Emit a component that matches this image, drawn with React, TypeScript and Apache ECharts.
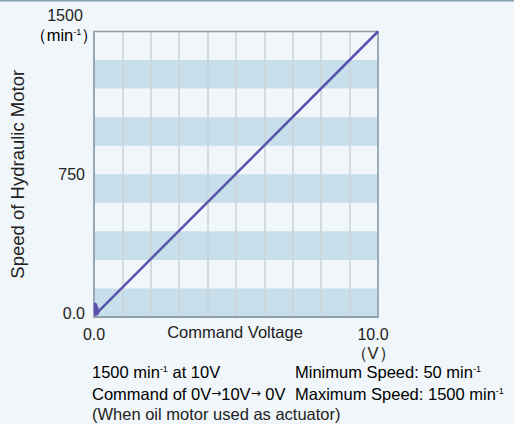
import React, { useEffect, useRef } from "react";
import * as echarts from "echarts";

const voltage = [0.03, 0.05, 0.07, 0.09, 0.11, 0.13, 0.16, 10.0];
const speed = [75, 5, 70, 10, 55, 15, 30, 1500];
const xTickLabels: Record<number, string> = { 0: "0.0", 10: "10.0" };
const yTickLabels: Record<number, string> = { 0: "0.0", 750: "750" };

const FONT = "'Liberation Sans', Arial, Helvetica, sans-serif";
const TXT = "#222222";
const FS = 16.5;

export default function App() {
  const ref = useRef<HTMLDivElement>(null);
  useEffect(() => {
    if (!ref.current) return;
    const chart = echarts.init(ref.current, undefined, { renderer: "svg" });
    const sup = { fontSize: 9, fontFamily: FONT, color: TXT, padding: [0, 0, 7, 0] };
    const base = { fontSize: FS, fontFamily: FONT, color: TXT };
    const arr = { fontSize: 12, fontFamily: "'DejaVu Sans', sans-serif", color: TXT, padding: [0, 0, 2, 0] };
    chart.setOption({
      animation: false,
      backgroundColor: "#f0f6f9",
      textStyle: { fontFamily: FONT },
      grid: {
        left: 91.5,
        top: 31.5,
        right: 136,
        bottom: 107,
        show: true,
        borderColor: "#8c9ca8",
        borderWidth: 1.5,
        backgroundColor: "transparent",
        z: 3,
      },
      xAxis: {
        type: "value",
        min: 0,
        max: 10,
        interval: 1,
        z: 2,
        axisLine: { show: true, lineStyle: { color: "#8c9ca8", width: 1.5 } },
        axisTick: { show: false },
        splitLine: { show: true, lineStyle: { color: "#cdd3d8", width: 1.5 } },
        axisLabel: {
          fontSize: 16,
          color: TXT,
          margin: 9,
          formatter: (v: number) =>
            v === 10 ? "{r|" + xTickLabels[10] + "}" : xTickLabels[v] ?? "",
          rich: { r: { fontSize: 16, color: TXT, fontFamily: FONT, padding: [0, 10, 0, 0] } },
        },
      },
      yAxis: {
        type: "value",
        min: 0,
        max: 1500,
        interval: 150,
        z: 1,
        name: "Speed of Hydraulic Motor",
        nameLocation: "middle",
        nameGap: 67,
        nameTextStyle: { fontSize: 18.5, color: TXT, fontFamily: FONT },
        axisLine: { show: true, lineStyle: { color: "#8c9ca8", width: 1.5 } },
        axisTick: { show: false },
        splitLine: { show: false },
        splitArea: { show: true, areaStyle: { color: ["#c7dfea", "rgba(0,0,0,0)"] } },
        axisLabel: {
          fontSize: 16,
          color: TXT,
          margin: 9,
          formatter: (v: number) =>
            v === 0 ? "{b|" + yTickLabels[0] + "}" : yTickLabels[v] ?? "",
          rich: { b: { fontSize: 16, color: TXT, fontFamily: FONT, padding: [0, 0, 8, 0] } },
        },
      },
      series: [
        {
          type: "line",
          data: voltage.map((v, i) => [v, speed[i]]),
          showSymbol: false,
          symbol: "none",
          z: 5,
          lineStyle: { color: "#5a52ac", width: 2.5 },
        },
      ],
      graphic: [
        { type: "rect", shape: { x: 0, y: 0, width: 514, height: 1.5 }, style: { fill: "#8aa2af" } },
        {
          type: "text",
          x: 235,
          y: 332,
          style: { text: "Command Voltage", fontSize: FS, fontFamily: FONT, fill: TXT, align: "center", verticalAlign: "middle" },
        },
        {
          type: "text",
          x: 65,
          y: 15,
          style: { text: "1500", fontSize: 16, fontFamily: FONT, fill: TXT, align: "center", verticalAlign: "middle" },
        },
        {
          type: "text",
          x: 64,
          y: 35,
          style: {
            text: "{b|（min}{s|-1}{b|）}",
            rich: { b: base, s: sup },
            align: "center",
            verticalAlign: "middle",
          },
        },
        {
          type: "text",
          x: 373,
          y: 353,
          style: { text: "（V）", fontSize: FS, fontFamily: FONT, fill: TXT, align: "center", verticalAlign: "middle" },
        },
        {
          type: "text",
          x: 92,
          y: 372,
          style: {
            text: "{b|1500 min}{s|-1}{b| at 10V}",
            rich: { b: base, s: sup },
            verticalAlign: "middle",
          },
        },
        {
          type: "text",
          x: 295,
          y: 372,
          style: {
            text: "{b|Minimum Speed: 50 min}{s|-1}",
            rich: { b: base, s: sup },
            verticalAlign: "middle",
          },
        },
        {
          type: "text",
          x: 92,
          y: 394,
          style: {
            text: "{b|Command of 0V}{a|→}{b|10V}{a|→}{b| 0V}",
            rich: { b: base, a: arr },
            verticalAlign: "middle",
          },
        },
        {
          type: "text",
          x: 295,
          y: 394,
          style: {
            text: "{b|Maximum Speed: 1500 min}{s|-1}",
            rich: { b: base, s: sup },
            verticalAlign: "middle",
          },
        },
        {
          type: "text",
          x: 92,
          y: 414,
          style: {
            text: "(When oil motor used as actuator)",
            fontSize: FS,
            fontFamily: FONT,
            fill: TXT,
            verticalAlign: "middle",
          },
        },
      ],
    });
    return () => chart.dispose();
  }, []);
  return (
    <div
      ref={ref}
      style={{ position: "fixed", left: 0, top: 0, width: 514, height: 424 }}
    />
  );
}
